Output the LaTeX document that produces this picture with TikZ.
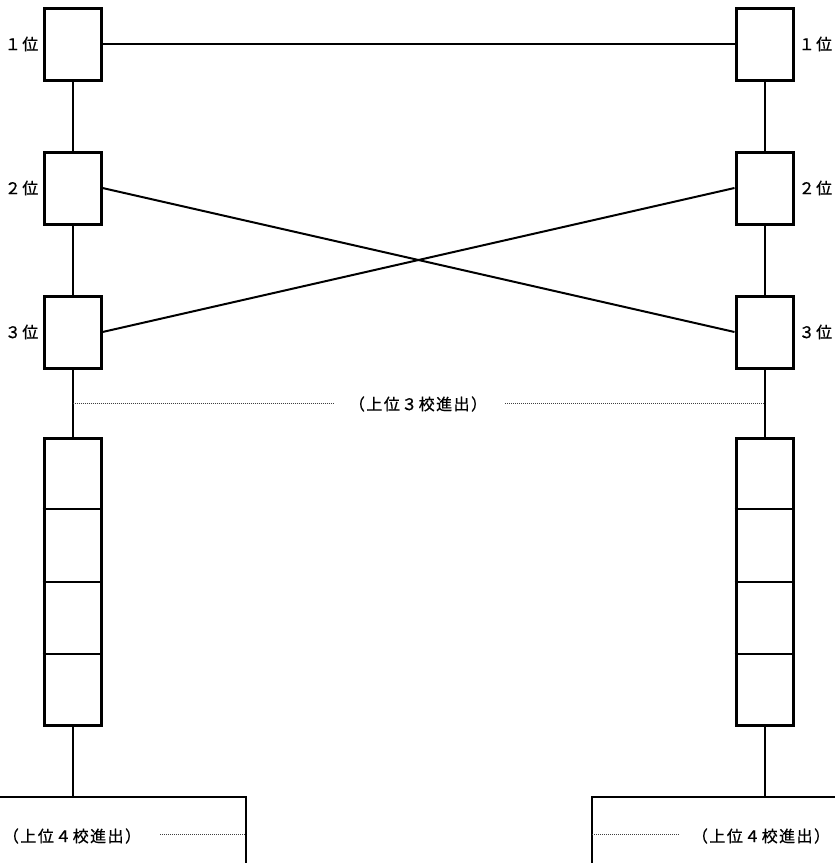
\documentclass[tikz,border=0pt]{standalone}
\usepackage{fontspec}
\newfontfamily\jp[LetterSpace=9,FakeBold=0.8]{Noto Sans CJK JP}
\usetikzlibrary{calc}
\begin{document}
\begin{tikzpicture}[x=1pt,y=-1pt,
  box/.style={draw, line width=3pt, minimum width=57pt, minimum height=72pt, inner sep=0pt},
  tall/.style={draw, line width=3pt, minimum width=57pt, minimum height=287pt, inner sep=0pt},
  conn/.style={line width=2pt},
  dots/.style={line width=1pt, densely dotted, black!75},
  lbl/.style={font=\jp\fontsize{16}{16}\selectfont, inner sep=0pt},
  note/.style={font=\jp\fontsize{16}{16}\selectfont, inner ysep=0pt, inner xsep=0pt}
]
\useasboundingbox (0,0) rectangle (835,863);
% left column
\node[box] (L1) at (72.5,44) {};
\node[box] (L2) at (72.5,188) {};
\node[box] (L3) at (72.5,332) {};
\node[tall] (LT) at (72.5,581.5) {};
% right column
\node[box] (R1) at (764.5,44) {};
\node[box] (R2) at (764.5,188) {};
\node[box] (R3) at (764.5,332) {};
\node[tall] (RT) at (764.5,581.5) {};
% dividers in tall boxes
\foreach \t in {LT,RT}{
  \foreach \f in {0.25,0.5,0.75}{
    \draw[line width=2pt] ($(\t.north west)!\f!(\t.south west)$) -- ($(\t.north east)!\f!(\t.south east)$);
  }
}
% labels
\node[lbl, anchor=east] (l1) at ([xshift=-4pt]L1.west) {１位};
\node[lbl, anchor=east] (l2) at ([xshift=-4pt]L2.west) {２位};
\node[lbl, anchor=east] (l3) at ([xshift=-4pt]L3.west) {３位};
\node[lbl, anchor=west] (r1) at ([xshift=4pt]R1.east) {１位};
\node[lbl, anchor=west] (r2) at ([xshift=4pt]R2.east) {２位};
\node[lbl, anchor=west] (r3) at ([xshift=4pt]R3.east) {３位};
% connectors
\draw[conn] (L1) -- (R1);
\draw[conn] (L2.east) -- (R3.west);
\draw[conn] (L3.east) -- (R2.west);
\draw[conn] (L1) -- (L2);
\draw[conn] (L2) -- (L3);
\draw[conn] (L3) -- (LT);
\draw[conn] (R1) -- (R2);
\draw[conn] (R2) -- (R3);
\draw[conn] (R3) -- (RT);
% top-3 note
\coordinate (ML) at ($(L3.south)!0.5!(LT.north)$);
\coordinate (MR) at ($(R3.south)!0.5!(RT.north)$);
\node[note] (T3) at (418,404) {（上位３校進出）};
\coordinate (D1) at (333,403);
\coordinate (D2) at (505,403);
\draw[dots] (ML) -- (D1);
\draw[dots] (D2) -- (MR);
% bottom brackets
\coordinate (BL) at (72.5,797);
\coordinate (BLa) at (0,797);
\coordinate (BLb) at (246,797);
\coordinate (BLc) at (246,863);
\coordinate (BR) at (764.5,797);
\coordinate (BRa) at (835,797);
\coordinate (BRb) at (592,797);
\coordinate (BRc) at (592,863);
\draw[conn] (LT) -- (BL);
\draw[conn] (RT) -- (BR);
\draw[conn] (BLa) -- (BLb) -- (BLc);
\draw[conn] (BRa) -- (BRb) -- (BRc);
\node[note] (T4L) at (72,836) {（上位４校進出）};
\node[note] (T4R) at (761,836) {（上位４校進出）};
\coordinate (D3) at (160,834);
\coordinate (D4) at (680,834);
\draw[dots] (D3) -- (BLb |- D3);
\draw[dots] (BRb |- D4) -- (D4);
\end{tikzpicture}
\end{document}
